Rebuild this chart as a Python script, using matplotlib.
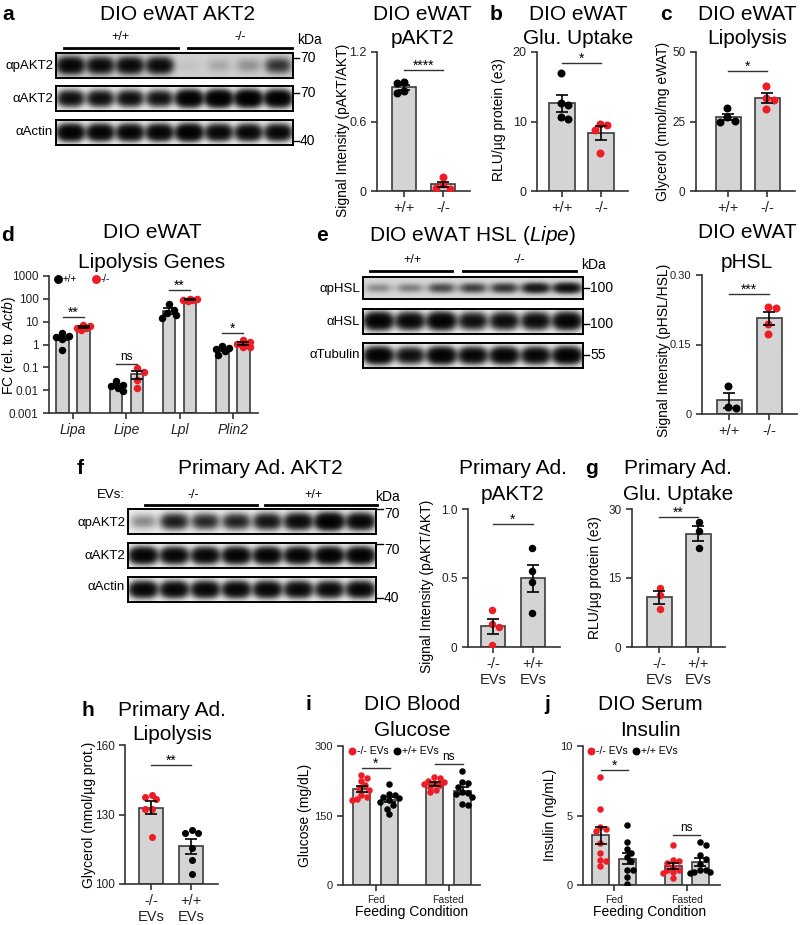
import numpy as np
import matplotlib
matplotlib.use('Agg')
import matplotlib.pyplot as plt
import matplotlib.transforms as mtransforms
from matplotlib.lines import Line2D

plt.rcParams['font.family'] = ['Liberation Sans', 'DejaVu Sans']
plt.rcParams['mathtext.fontset'] = 'custom'
plt.rcParams['mathtext.it'] = 'Liberation Sans:italic'
plt.rcParams['mathtext.rm'] = 'Liberation Sans'

# ---- data ----
# western blot band strengths per lane
a_p = [1.0, 0.85, 0.9, 0.85, 0.02, 0.06, 0.1, 0.4]
a_tot = [0.8, 0.8, 0.8, 0.75, 1.3, 1.4, 1.4, 1.3]
a_act = [1.2, 1.1, 1.1, 1.1, 1.3, 1.0, 1.0, 1.0]
e_p = [0.12, 0.15, 0.3, 0.35, 0.4, 0.65, 0.75]
e_tot = [1.2, 1.0, 1.2, 0.8, 0.85, 0.9, 1.1]
e_tub = [1.2, 0.8, 1.2, 1.0, 1.1, 1.0, 1.2]
f_p = [0.15, 0.6, 0.5, 0.55, 0.7, 0.9, 1.3, 1.0]
f_tot = [1.1, 1.0, 1.0, 1.1, 1.1, 1.1, 1.2, 1.2]
f_act = [1.0, 1.0, 1.0, 1.0, 1.0, 0.95, 0.9, 1.0]

# quantifications
a_wt = [0.94, 0.93, 0.86, 0.85]
a_ko = [0.12, 0.06, 0.02, 0.03]
b_wt = [17.0, 12.6, 12.4, 10.6, 10.4]
b_ko = [9.7, 9.5, 8.8, 5.5]
c_wt = [29.9, 26.6, 25.3, 25.0]
c_ko = [37.8, 33.5, 32.8, 29.5]
genes = ['Lipa', 'Lipe', 'Lpl', 'Plin2']
d_wt = [[3.2, 2.4, 2.1, 1.8, 0.6], [0.025, 0.017, 0.015, 0.0125, 0.009],
        [60, 33, 25, 20, 14], [0.87, 0.69, 0.63, 0.53, 0.35]]
d_ko = [[7.2, 6.6, 5.2, 5.2, 4.3], [0.09, 0.065, 0.028, 0.013],
        [100, 95, 90, 86, 80], [1.6, 1.35, 1.07, 0.81, 0.8]]
e_wt = [0.061, 0.015, 0.012]
e_ko = [0.23, 0.228, 0.195, 0.172]
f_ko = [0.27, 0.17, 0.145, 0.015]
f_wt = [0.72, 0.55, 0.47, 0.25]
g_ko = [12.8, 11.2, 8.3]
g_wt = [27.1, 25.2, 21.5]
h_ko = [137.5, 136.5, 138.5, 132.5, 132.5, 120.5]
h_wt = [122.2, 123.4, 122.0, 115.5, 110.2, 104.3]
feeding = ['Fed', 'Fasted']
i_ko = [[237, 230, 225, 215, 210, 205, 195, 190, 185, 183],
        [233, 230, 225, 222, 220, 218, 215, 212, 205, 200]]
i_wt = [[218, 196, 194, 191, 187, 183, 180, 173, 165, 153],
        [247, 223, 221, 212, 201, 198, 196, 191, 175, 173]]
j_ko = [[7.8, 5.5, 4.2, 4.0, 3.9, 3.0, 2.3, 1.8, 1.75, 1.37],
        [2.9, 1.8, 1.7, 1.6, 1.3, 1.1, 1.1, 0.95, 0.85, 0.5]]
j_wt = [[4.3, 3.1, 2.6, 2.3, 2.0, 1.7, 1.1, 1.1, 0.6, 0.1],
        [3.1, 2.9, 2.15, 1.9, 1.5, 1.1, 1.1, 0.95, 0.9, 0.85]]

RED = '#ee1c25'
BAR = '#d4d4d4'
EDGE = '#3c3c3c'
W, H = 800, 925

fig = plt.figure(figsize=(8, 9.25), dpi=100)


def add_ax(l, t, r, b):
    return fig.add_axes([l / W, 1 - b / H, (r - l) / W, (b - t) / H])


def text(x, y, s, size=10, **kw):
    kw.setdefault('ha', 'center')
    kw.setdefault('va', 'center')
    fig.text(x / W, 1 - y / H, s, fontsize=size, **kw)


def hline(x0, x1, y, lw=2.0, color='black'):
    fig.add_artist(Line2D([x0 / W, x1 / W], [1 - y / H, 1 - y / H], lw=lw, color=color))


def title2(x, y1, y2, l1, l2):
    text(x, y1, l1, 15)
    text(x, y2, l2, 15)


def label(x, y, s):
    text(x, y, s, 15, weight='bold')


def ylab(x, y, s, size=10):
    text(x, y, s, size, rotation=90)


def legend_item(x, y, color, s, size=7, diam=7):
    fig.add_artist(Line2D([x / W], [1 - y / H], marker='o', ms=diam * 0.72,
                          color=color, ls='none'))
    text(x + 5, y, s, size, ha='left')


def blot(box, intens, bg, wy=0.27, wx=0.40):
    l, t, r, b = box
    ax = add_ax(l, t, r, b)
    n = len(intens)
    nx, ny = n * 32, 48
    X, Y = np.meshgrid((np.arange(nx) + 0.5) / nx * n, (np.arange(ny) + 0.5) / ny)
    dark = np.zeros_like(X)
    for i, v in enumerate(intens):
        dark += v * np.exp(-(np.abs(X - i - 0.5) / wx) ** 3 - (np.abs(Y - 0.5) / wy) ** 2)
    img = bg * np.exp(-3.5 * dark)
    ax.imshow(img, cmap='gray', vmin=0, vmax=1, extent=(0, n, 0, 1),
              aspect='auto', interpolation='bilinear')
    ax.set_xticks([])
    ax.set_yticks([])
    for s in ax.spines.values():
        s.set_linewidth(1.4)
    return ax


def marker(x, y, s, ty=None):
    hline(x, x + 6, y, lw=1)
    text(x + 7, y if ty is None else ty, s, 10, ha='left')


def style(ax, ysize=9, xsize=10.5):
    for s in ['top', 'right']:
        ax.spines[s].set_visible(False)
    for s in ['left', 'bottom']:
        ax.spines[s].set_linewidth(1.2)
        ax.spines[s].set_color('#333333')
    ax.tick_params(width=1.2, length=4, color='#333333', labelsize=ysize, labelcolor='#222222')
    ax.tick_params(axis='x', labelsize=xsize, pad=3)
    ax.patch.set_alpha(0)


def make_ax(box, c0, unit, ylim, yticks, yticklabels, log=False, ysize=9):
    l, t, r, b = box
    ax = add_ax(l, t, r, b)
    ax.set_xlim((l - c0) / unit, (r - c0) / unit)
    if log:
        ax.set_yscale('log')
    ax.set_ylim(*ylim)
    ax.set_yticks(yticks)
    ax.set_yticklabels(yticklabels)
    ax.minorticks_off()
    style(ax, ysize)
    ax.box = box
    return ax


def swarm(ax, xc, vals, diam, half):
    # spread overlapping points sideways, staying within +-half pixels
    tr = ax.transData
    inv = tr.inverted()
    cands = sorted(np.arange(-half, half + 0.01, diam * 0.3), key=lambda c: (abs(c), c))
    placed = []
    xs = np.zeros(len(vals))
    for i in np.argsort(vals)[::-1]:
        px, py = tr.transform((xc, vals[i]))
        best, bestd = 0.0, -1.0
        for c in cands:
            d = min([np.hypot(px + c - qx, py - qy) for qx, qy in placed] or [1e9])
            if d >= diam * 0.85:
                best = c
                break
            if d > bestd:
                best, bestd = c, d
        placed.append((px + best, py))
        xs[i] = inv.transform((px + best, py))[0]
    return xs


def draw_bar(ax, x, vals, color, width, diam=8, bottom=0, spread=0.5):
    vals = np.asarray(vals, float)
    m = vals.mean()
    se = vals.std(ddof=1) / np.sqrt(len(vals))
    ax.bar(x, m - bottom, width, bottom=bottom, color=BAR, edgecolor=EDGE, linewidth=1.2, zorder=1)
    wpx = ax.transData.transform((x + width, m))[0] - ax.transData.transform((x, m))[0]
    xs = swarm(ax, x, vals, diam, wpx * spread)
    ax.scatter(xs, vals, s=(diam * 0.72) ** 2, color=color, zorder=3, linewidths=0)
    ax.errorbar(x, m, yerr=se, fmt='none', ecolor='black', elinewidth=1.2,
                capsize=4, capthick=1.2, zorder=4)


def sig(ax, x0, x1, y_px, s, size=10):
    l, t, r, b = ax.box
    tr = mtransforms.blended_transform_factory(ax.transData, ax.transAxes)
    yf = (b - y_px) / (b - t)
    ax.plot([x0, x1], [yf, yf], transform=tr, color='#333333', lw=1, clip_on=False)
    ty = (b - y_px + (4 if s == 'ns' else 0)) / (b - t)
    ax.text((x0 + x1) / 2, ty, s, transform=tr, ha='center', va='baseline',
            fontsize=size, clip_on=False)


# ---------------- panel a ----------------
label(8, 15, 'a')
text(178, 15, 'DIO eWAT AKT2', 15)
text(120, 37, '+/+', 9)
text(240, 37, '-/-', 9)
hline(64, 178, 48)
hline(188, 292, 48)
blot((56, 53, 293, 78), a_p, 0.82)
blot((56, 86, 293, 111), a_tot, 0.96)
blot((56, 120, 293, 145), a_act, 0.96)
for y, s in [(66, 'αpAKT2'), (99, 'αAKT2'), (132, 'αActin')]:
    text(53, y, s, 9.5, ha='right')
text(310, 40, 'kDa', 10)
marker(293, 58, '70')
marker(293, 93, '70')
marker(293, 141, '40')

ax = make_ax((377, 52, 470, 191), 404, 39, (0, 1.2), [0, 0.6, 1.2], ['0', '0.6', '1.2'])
draw_bar(ax, 0, a_wt, 'black', 24 / 39)
draw_bar(ax, 1, a_ko, RED, 24 / 39)
ax.set_xticks([0, 1])
ax.set_xticklabels(['+/+', '-/-'])
sig(ax, 0, 1, 70, '****')
title2(422, 15, 38, 'DIO eWAT', 'pAKT2')
ylab(343, 130, 'Signal Intensity (pAKT/AKT)')

# ---------------- panel b ----------------
label(496, 15, 'b')
title2(578, 15, 38, 'DIO eWAT', 'Glu. Uptake')
ax = make_ax((537, 52, 628, 191), 562, 39, (0, 20), [0, 10, 20], ['0', '10', '20'])
draw_bar(ax, 0, b_wt, 'black', 26 / 39)
draw_bar(ax, 1, b_ko, RED, 26 / 39)
ax.set_xticks([0, 1])
ax.set_xticklabels(['+/+', '-/-'])
sig(ax, 0, 1, 63, '*')
ylab(499, 120, 'RLU/µg protein (e3)')

# ---------------- panel c ----------------
label(666, 15, 'c')
title2(747, 15, 38, 'DIO eWAT', 'Lipolysis')
ax = make_ax((696, 52, 795, 191), 728, 39, (0, 50), [0, 25, 50], ['0', '25', '50'], ysize=8.5)
draw_bar(ax, 0, c_wt, 'black', 25 / 39)
draw_bar(ax, 1, c_ko, RED, 25 / 39)
ax.set_xticks([0, 1])
ax.set_xticklabels(['+/+', '-/-'])
sig(ax, 0, 1, 71, '*')
ylab(663, 121, 'Glycerol (nmol/mg eWAT)')

# ---------------- panel d ----------------
label(8, 235, 'd')
title2(152, 232, 262, 'DIO eWAT', 'Lipolysis Genes')
u = 53.3
off = 10.5 / u
ax = make_ax((49, 276, 258, 413), 73, u, (1e-3, 1e3),
             [1e-3, 1e-2, 1e-1, 1, 10, 100, 1000],
             ['0.001', '0.01', '0.1', '1', '10', '100', '1000'], log=True, ysize=8.5)
for g in range(len(genes)):
    draw_bar(ax, g - off, d_wt[g], 'black', 12.3 / u, diam=7.5, bottom=1e-3, spread=0.55)
    draw_bar(ax, g + off, d_ko[g], RED, 12.3 / u, diam=7.5, bottom=1e-3, spread=0.55)
ax.set_xticks(range(len(genes)))
ax.set_xticklabels(genes, style='italic', fontsize=10)
for g, (y, s) in enumerate([(317, '**'), (364, 'ns'), (290, '**'), (333, '*')]):
    sig(ax, g - off, g + off, y, s, 8.5 if s == 'ns' else 10)
legend_item(58, 279, 'black', '+/+', 7, 7.5)
legend_item(96, 279, RED, '-/-', 7, 7.5)
ylab(9, 345, 'FC (rel. to $\\mathit{Actb}$)')

# ---------------- panel e ----------------
label(322, 235, 'e')
text(473, 235, 'DIO eWAT HSL ($\\mathit{Lipe}$)', 15)
text(412, 260, '+/+', 9)
text(519, 260, '-/-', 9)
hline(370, 452, 271)
hline(463, 576, 271)
blot((363, 277, 583, 299), e_p, 0.85, wy=0.2)
blot((363, 309, 583, 334), e_tot, 0.96)
blot((363, 343, 583, 368), e_tub, 0.96)
for y, s in [(289, 'αpHSL'), (322, 'αHSL'), (355, 'αTubulin')]:
    text(360, y, s, 9.5, ha='right')
text(594, 265, 'kDa', 10)
marker(583, 288, '100')
marker(583, 324, '100')
marker(583, 355, '55')

title2(747, 233, 262, 'DIO eWAT', 'pHSL')
ax = make_ax((702, 275, 797, 414), 729, 40, (0, 0.30), [0, 0.15, 0.30], ['0', '0.15', '0.30'], ysize=8)
draw_bar(ax, 0, e_wt, 'black', 25 / 40)
draw_bar(ax, 1, e_ko, RED, 25 / 40)
ax.set_xticks([0, 1])
ax.set_xticklabels(['+/+', '-/-'])
sig(ax, 0, 1, 294, '***')
ylab(664, 350, 'Signal Intensity (pHSL/HSL)')

# ---------------- panel f ----------------
label(80, 468, 'f')
text(260, 468, 'Primary Ad. AKT2', 15)
text(125, 495, 'EVs:', 9.5, ha='right')
text(193, 495, '-/-', 9)
text(313, 495, '+/+', 9)
hline(145, 257, 505)
hline(265, 377, 505)
text(388, 497, 'kDa', 10)
blot((128, 509, 376, 534), f_p, 0.93)
blot((128, 543, 376, 568), f_tot, 0.96)
blot((128, 577, 376, 602), f_act, 0.96)
for y, s in [(523, 'αpAKT2'), (556, 'αAKT2'), (587, 'αActin')]:
    text(125, y, s, 9.5, ha='right')
marker(377, 509, '70', ty=514)
marker(377, 544, '70', ty=550)
marker(377, 598, '40')

title2(513, 468, 494, 'Primary Ad.', 'pAKT2')
ax = make_ax((468, 509, 560, 647), 493, 40, (0, 1.0), [0, 0.5, 1.0], ['0', '0.5', '1.0'], ysize=8.5)
draw_bar(ax, 0, f_ko, RED, 24 / 40, diam=7.5)
draw_bar(ax, 1, f_wt, 'black', 24 / 40, diam=7.5)
ax.set_xticks([0, 1])
ax.set_xticklabels(['-/-\nEVs', '+/+\nEVs'])
sig(ax, 0, 1, 524, '*')
ylab(427, 586, 'Signal Intensity (pAKT/AKT)')

# ---------------- panel g ----------------
label(592, 468, 'g')
title2(678, 468, 494, 'Primary Ad.', 'Glu. Uptake')
ax = make_ax((632, 509, 725, 647), 659, 39, (0, 30), [0, 15, 30], ['0', '15', '30'], ysize=8.5)
draw_bar(ax, 0, g_ko, RED, 25 / 39, diam=7.5)
draw_bar(ax, 1, g_wt, 'black', 25 / 39, diam=7.5)
ax.set_xticks([0, 1])
ax.set_xticklabels(['-/-\nEVs', '+/+\nEVs'])
sig(ax, 0, 1, 517, '**')
ylab(595, 578, 'RLU/µg protein (e3)')

# ---------------- panel h ----------------
label(88, 710, 'h')
title2(172, 710, 734, 'Primary Ad.', 'Lipolysis')
ax = make_ax((125, 745, 218, 884), 151, 40, (100, 160), [100, 130, 160], ['100', '130', '160'], ysize=8.5)
draw_bar(ax, 0, h_ko, RED, 24 / 40, diam=7, bottom=100)
draw_bar(ax, 1, h_wt, 'black', 24 / 40, diam=7, bottom=100)
ax.set_xticks([0, 1])
ax.set_xticklabels(['-/-\nEVs', '+/+\nEVs'])
sig(ax, 0, 1, 765, '**')
ylab(89, 815, 'Glycerol (nmol/µg prot.)')

# ---------------- panel i ----------------
label(308, 705, 'i')
title2(412, 705, 730, 'DIO Blood', 'Glucose')
u = 72.75
off = 14 / u
ax = make_ax((343, 746, 480, 885), 375.75, u, (0, 300), [0, 150, 300], ['0', '150', '300'], ysize=8)
for g in range(2):
    draw_bar(ax, g - off, i_ko[g], RED, 17 / u, diam=6.5, spread=0.6)
    draw_bar(ax, g + off, i_wt[g], 'black', 17 / u, diam=6.5, spread=0.6)
ax.set_xticks([0, 1])
ax.set_xticklabels(feeding, fontsize=7.5)
sig(ax, -off, off, 768, '*')
sig(ax, 1 - off, 1 + off, 764, 'ns', 8.5)
legend_item(352, 751, RED, '-/- EVs', 7.5, 6.5)
legend_item(397, 751, 'black', '+/+ EVs', 7.5, 6.5)
text(412, 912, 'Feeding Condition', 10)
ylab(305, 815, 'Glucose (mg/dL)')

# ---------------- panel j ----------------
label(547, 705, 'j')
title2(650, 705, 730, 'DIO Serum', 'Insulin')
u = 72.5
off = 13.5 / u
ax = make_ax((583, 746, 720, 885), 614.25, u, (0, 10), [0, 5, 10], ['0', '5', '10'], ysize=8)
for g in range(2):
    draw_bar(ax, g - off, j_ko[g], RED, 17 / u, diam=6.5, spread=0.6)
    draw_bar(ax, g + off, j_wt[g], 'black', 17 / u, diam=6.5, spread=0.6)
ax.set_xticks([0, 1])
ax.set_xticklabels(feeding, fontsize=7.5)
sig(ax, -off, off, 770, '*')
sig(ax, 1 - off, 1 + off, 835, 'ns', 8.5)
legend_item(591, 751, RED, '-/- EVs', 7.5, 6.5)
legend_item(636, 751, 'black', '+/+ EVs', 7.5, 6.5)
text(650, 912, 'Feeding Condition', 10)
ylab(550, 815, 'Insulin (ng/mL)')

fig.savefig('out.png', dpi=100)
